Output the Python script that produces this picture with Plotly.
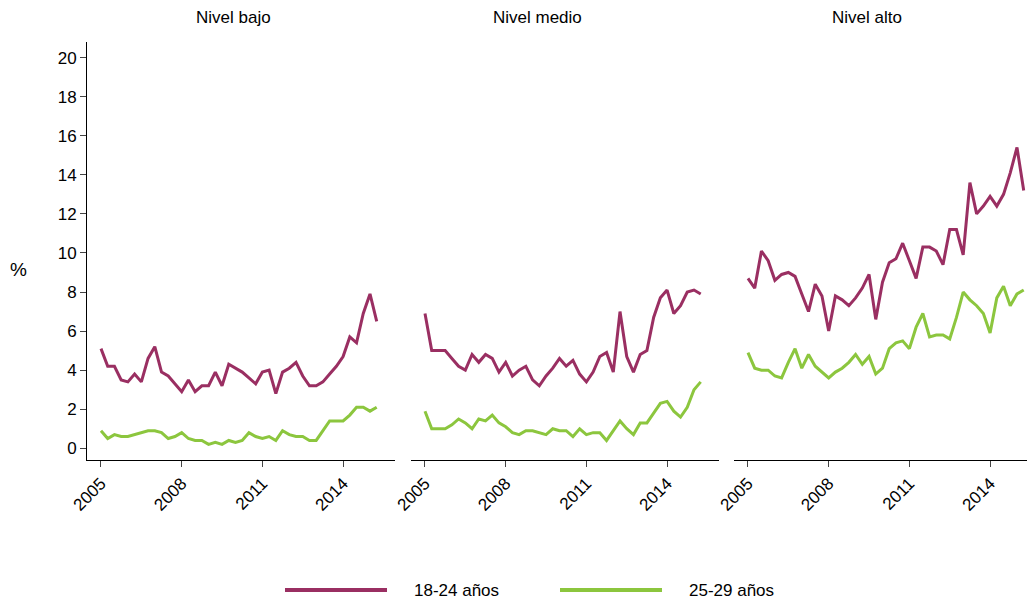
import plotly.graph_objects as go

panels = ["Nivel bajo", "Nivel medio", "Nivel alto"]
series_names = ["18-24 años", "25-29 años"]
years = [2005 + k / 4 for k in range(42)]
tick_vals = [2005, 2008, 2011, 2014]
y_ticks = [0, 2, 4, 6, 8, 10, 12, 14, 16, 18, 20]

bajo_1824 = [5.1, 4.2, 4.2, 3.5, 3.4, 3.8, 3.4, 4.6, 5.2, 3.9, 3.7, 3.3, 2.9, 3.5, 2.9, 3.2, 3.2, 3.9, 3.2, 4.3, 4.1, 3.9, 3.6, 3.3, 3.9, 4.0, 2.8, 3.9, 4.1, 4.4, 3.7, 3.2, 3.2, 3.4, 3.8, 4.2, 4.7, 5.7, 5.4, 6.9, 7.9, 6.5]
bajo_2529 = [0.9, 0.5, 0.7, 0.6, 0.6, 0.7, 0.8, 0.9, 0.9, 0.8, 0.5, 0.6, 0.8, 0.5, 0.4, 0.4, 0.2, 0.3, 0.2, 0.4, 0.3, 0.4, 0.8, 0.6, 0.5, 0.6, 0.4, 0.9, 0.7, 0.6, 0.6, 0.4, 0.4, 0.9, 1.4, 1.4, 1.4, 1.7, 2.1, 2.1, 1.9, 2.1]
medio_1824 = [6.9, 5.0, 5.0, 5.0, 4.6, 4.2, 4.0, 4.8, 4.4, 4.8, 4.6, 3.9, 4.4, 3.7, 4.0, 4.2, 3.5, 3.2, 3.7, 4.1, 4.6, 4.2, 4.5, 3.8, 3.4, 3.9, 4.7, 4.9, 3.9, 7.0, 4.7, 3.9, 4.8, 5.0, 6.7, 7.7, 8.1, 6.9, 7.3, 8.0, 8.1, 7.9]
medio_2529 = [1.9, 1.0, 1.0, 1.0, 1.2, 1.5, 1.3, 1.0, 1.5, 1.4, 1.7, 1.3, 1.1, 0.8, 0.7, 0.9, 0.9, 0.8, 0.7, 1.0, 0.9, 0.9, 0.6, 1.0, 0.7, 0.8, 0.8, 0.4, 0.9, 1.4, 1.0, 0.7, 1.3, 1.3, 1.8, 2.3, 2.4, 1.9, 1.6, 2.1, 3.0, 3.4]
alto_1824 = [8.7, 8.2, 10.1, 9.6, 8.6, 8.9, 9.0, 8.8, 7.9, 7.0, 8.4, 7.8, 6.0, 7.8, 7.6, 7.3, 7.7, 8.2, 8.9, 6.6, 8.5, 9.5, 9.7, 10.5, 9.6, 8.7, 10.3, 10.3, 10.1, 9.4, 11.2, 11.2, 9.9, 13.6, 12.0, 12.4, 12.9, 12.4, 13.0, 14.1, 15.4, 13.2]
alto_2529 = [4.9, 4.1, 4.0, 4.0, 3.7, 3.6, 4.4, 5.1, 4.1, 4.8, 4.2, 3.9, 3.6, 3.9, 4.1, 4.4, 4.8, 4.3, 4.7, 3.8, 4.1, 5.1, 5.4, 5.5, 5.1, 6.2, 6.9, 5.7, 5.8, 5.8, 5.6, 6.7, 8.0, 7.6, 7.3, 6.9, 5.9, 7.7, 8.3, 7.3, 7.9, 8.1]

data = [(bajo_1824, bajo_2529), (medio_1824, medio_2529), (alto_1824, alto_2529)]
colors = ["#9a2f62", "#8cc63e"]
W, H = 1027, 602
TOP, BOT = 42, 460
domains = [(87, 395), (411, 719), (734, 1027)]
title_x = [233, 537, 867]

fig = go.Figure()
for i, pair in enumerate(data):
    xa = "x" if i == 0 else f"x{i+1}"
    for j, vals in enumerate(pair):
        fig.add_trace(go.Scatter(x=years, y=vals, mode="lines", xaxis=xa, yaxis="y",
                                 line=dict(color=colors[j], width=3),
                                 name=series_names[j], showlegend=False))
    d0, d1 = domains[i]
    key = "xaxis" if i == 0 else f"xaxis{i+1}"
    fig.layout[key] = dict(domain=[d0 / W, d1 / W], range=[2004.48, 2004.48 + (d1 - d0) / 26.9],
                           tickvals=tick_vals, ticktext=[str(t) for t in tick_vals], tickangle=-45,
                           showline=True, linecolor="black", linewidth=1, ticks="outside",
                           ticklen=6, showgrid=False, zeroline=False, anchor="y", automargin=False,
                           tickfont=dict(size=17, color="black"))
    fig.add_annotation(text=panels[i], x=title_x[i] / W, y=1 - 18 / H, xref="paper", yref="paper",
                       showarrow=False, font=dict(size=17, color="black"), xanchor="center", yanchor="middle")

for j in range(2):
    x0 = [285, 560][j]
    fig.add_shape(type="line", xref="paper", yref="paper", x0=x0 / W, x1=(x0 + 102) / W,
                  y0=1 - 590 / H, y1=1 - 590 / H, line=dict(color=colors[j], width=4))
    fig.add_annotation(text=series_names[j], x=(x0 + 127) / W, y=1 - 590 / H, xref="paper", yref="paper",
                       showarrow=False, xanchor="left", yanchor="middle", font=dict(size=17))

fig.add_annotation(text="%", x=18 / W, y=1 - 270 / H, xref="paper", yref="paper", showarrow=False,
                   xanchor="center", yanchor="middle", font=dict(size=19))

fig.update_layout(
    width=W, height=H, margin=dict(l=0, r=0, t=0, b=0, autoexpand=False),
    paper_bgcolor="white", plot_bgcolor="white", showlegend=False,
    font=dict(family="Liberation Sans, Arial", color="black"),
    yaxis=dict(domain=[1 - BOT / H, 1 - TOP / H], range=[-0.6, 20.8], tickvals=y_ticks, showline=True,
               linecolor="black", ticks="outside", ticklen=6, showgrid=False, zeroline=False,
               automargin=False, tickfont=dict(size=17), anchor="x"),
)
fig.write_html("out.html", config={"displayModeBar": False},
               post_script="document.body.style.margin='0';document.body.style.overflow='hidden';")
